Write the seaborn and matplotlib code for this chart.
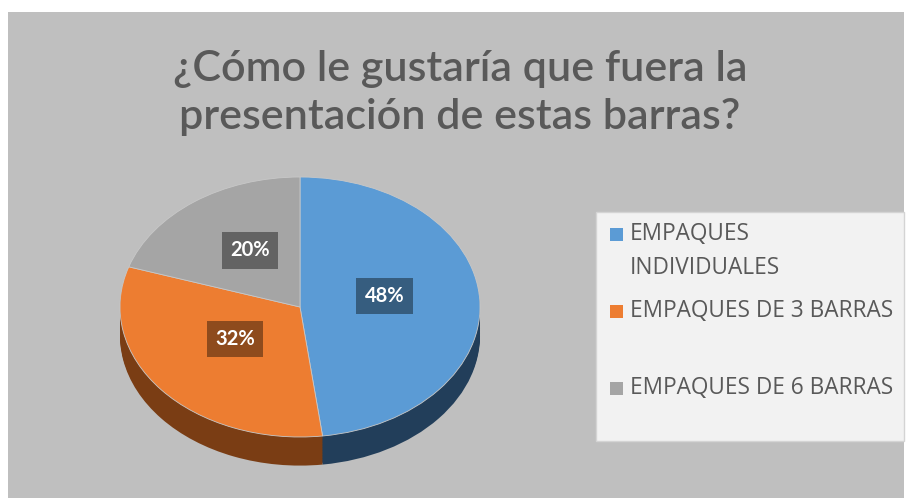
import matplotlib
matplotlib.use("Agg")
import matplotlib.pyplot as plt
import seaborn as sns
from matplotlib.patches import Rectangle

# -----------------------------
# Data
# -----------------------------
labels = ["EMPAQUES\nINDIVIDUALES", "EMPAQUES DE 3 BARRAS", "EMPAQUES DE 6 BARRAS"]
values = [48, 32, 20]
title = "¿Cómo le gustaría que fuera la\npresentación de estas barras?"

top_colors = ["#5b9bd5", "#ed7d31", "#a5a5a5"]
side_colors = ["#223e5a", "#7a3d14", "#5e5e5e"]

sns.set_theme(style="white")
plt.rcParams['font.family'] = ['Lato', 'DejaVu Sans']

W, H = 906, 498
fig = plt.figure(figsize=(W / 100, H / 100), dpi=100, facecolor="white")

# grey chart area
fig.patches.append(Rectangle((8 / W, 0), (904 - 8) / W, (498 - 12) / H,
                             transform=fig.transFigure, facecolor="#bfbfbf",
                             edgecolor="none", zorder=-2))
# legend box
fig.patches.append(Rectangle((596 / W, (498 - 441) / H), (904 - 596) / W, (441 - 212) / H,
                             transform=fig.transFigure, facecolor="#f2f2f2",
                             edgecolor="#d4d4d4", linewidth=1, zorder=-1))

# -----------------------------
# Pie (pseudo 3D: stacked layers, squashed axes)
# -----------------------------
ax = fig.add_axes([100 / W, 20 / H, 400 / W, 320 / H])
ax.set_zorder(2)
ax.patch.set_alpha(0)

depth = 0.22
n_layers = 18
for i in range(n_layers, 0, -1):
    ax.pie(values, colors=side_colors, startangle=90, counterclock=False,
           center=(0, -depth * i / n_layers), radius=1,
           wedgeprops=dict(linewidth=0))

wedges, _, autotexts = ax.pie(values, colors=top_colors, startangle=90, counterclock=False,
                              radius=1, autopct="%1.0f%%", pctdistance=0.47,
                              wedgeprops=dict(linewidth=0.6, edgecolor="#c8c8c8"),
                              textprops=dict(color="white", fontsize=14.5, fontweight="bold"))
for t in autotexts:
    x, y = t.get_position()
    t.set_position((x, y + 0.055))
    t.set_bbox(dict(facecolor="black", alpha=0.4, edgecolor="none", pad=6))

ax.set_aspect("auto")
ax.set_xlim(-1 - 20 / 180, 1 + 20 / 180)
ax.set_ylim((20 - 191) / 130, (340 - 191) / 130)
ax.axis("off")

# -----------------------------
# Title
# -----------------------------
fig.text(460 / W, 1 - 93 / H, title, ha="center", va="center", fontsize=31,
         fontweight="semibold", color="#595959", linespacing=1.35)

# -----------------------------
# Legend (drawn by hand to get the uneven entry spacing)
# -----------------------------
legend_y = [234, 311, 388]  # pixel rows of the first text line of each entry
for lab, col, yy in zip(labels, top_colors, legend_y):
    fig.patches.append(Rectangle((610 / W, 1 - (yy + 7) / H), 13 / W, 13 / H,
                                 transform=fig.transFigure, facecolor=col,
                                 edgecolor="none", zorder=3))
    fig.text(630 / W, 1 - (yy - 12) / H, lab, ha="left", va="top",
             family="Open Sans", fontsize=16.3, color="#595959", linespacing=1.55)

fig.savefig("out.png", dpi=100, facecolor="white")
